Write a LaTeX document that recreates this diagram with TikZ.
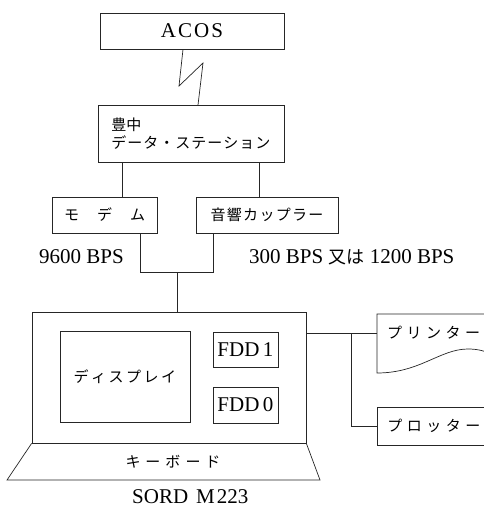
\documentclass[tikz,border=0pt]{standalone}
\usepackage{fontspec}
\setmainfont{Liberation Serif}
\newfontfamily\jp{Noto Sans CJK JP}
\newcommand\lsp[2]{\def\lspsep{\hspace{#1}}\lspgo#2\relax}
\def\lspgo#1{#1\lspnext}
\def\lspnext#1{\ifx#1\relax\else\lspsep#1\expandafter\lspnext\fi}
\begin{document}
\begin{tikzpicture}[x=1pt,y=-1pt,
  wire/.style={line width=0.7pt, draw=black!85},
  box/.style={draw=black!85, line width=0.7pt, inner sep=0pt},
  lat/.style={font=\fontsize{21}{24}\selectfont},
  jpf/.style={font=\jp\fontsize{15}{18}\selectfont},
  lbl/.style={inner sep=0pt}]
\useasboundingbox (0,0) rectangle (484,507);
\clip (0,0) rectangle (484,507);

% top boxes
\node[box, minimum width=184pt, minimum height=36pt, lat] (acos) at (192,31) {\lsp{2pt}{ACOS}};
\node[box, anchor=north west, minimum height=57pt, text width=160pt, inner xsep=13pt, align=left, jpf] (stn) at (98,105) {豊中\\\lsp{1pt}{データ・ステーション}};

% lightning link
\coordinate (z1) at (183,0);
\coordinate (z2) at (198,0);
\draw[wire] (acos.south -| z1) -- (179,86) -- (203,63) -- (stn.north -| z2);

% modem and coupler
\node[box, minimum width=105pt, minimum height=36pt, jpf] (mdm) at (104.5,215) {\lsp{18pt}{モデム}};
\node[box, minimum width=142pt, minimum height=36pt, jpf] (cpl) at (267,215) {\lsp{1.3pt}{音響カップラー}};

\coordinate (s1) at (122,0);
\coordinate (s2) at (259,0);
\draw[wire] (stn.south -| s1) -- (mdm.north -| s1);
\draw[wire] (stn.south -| s2) -- (cpl.north -| s2);

\node[lat, lbl, anchor=west] (l96) at (39,257) {9600 BPS};
\node[lat, lbl, anchor=west] (l300) at (249,257) {300 BPS {\jp\fontsize{18}{20}\selectfont 又は} 1200 BPS};

% computer
\node[box, minimum width=274pt, minimum height=131pt] (pc) at (169,377.5) {};
\draw[wire] (pc.south west) -- (7,480) -- (320,480) -- (pc.south east);
\node[jpf, lbl] (kbd) at (173,462) {\lsp{5pt}{キーボード}};
\node[lat, lbl, anchor=west] (sord) at (132,497) {SORD\hspace{8pt}M\hspace{2pt}223};

\node[box, minimum width=130pt, minimum height=91pt, jpf] (dsp) at (125,376.5) {\lsp{2.5pt}{ディスプレイ}};
\node[box, minimum width=65pt, minimum height=35pt, lat] (f1) at (245.5,349.5) {FDD\,1};
\node[box, minimum width=65pt, minimum height=36pt, lat] (f0) at (245.5,405) {FDD\,0};

% junction of the two lines
\coordinate (m1) at (140,272);
\coordinate (c1) at (213,272);
\coordinate (jn) at (177,272);
\draw[wire] (mdm.south -| m1) -- (m1) -- (c1) -- (cpl.south -| c1);
\draw[wire] (jn) -- (pc.north -| jn);

% printer and plotter
\coordinate (prn) at (377,333);
\draw[wire] (495,314) -- (377,314) -- (377,373)
  .. controls (420,373) and (440,349) .. (468,349)
  .. controls (478,349) and (486,351) .. (495,356);
\node[jpf, lbl, anchor=west] (prt) at (387,333) {\lsp{4.5pt}{プリンター}};
\node[box, anchor=west, minimum height=38pt, text width=120pt, inner xsep=10pt, align=left, jpf] (plt) at (377,426) {\lsp{4.5pt}{プロッター}};

\coordinate (br) at (351,333);
\draw[wire] (pc.east |- br) -- (prn);
\draw[wire] (br) |- (plt.west);
\end{tikzpicture}
\end{document}
